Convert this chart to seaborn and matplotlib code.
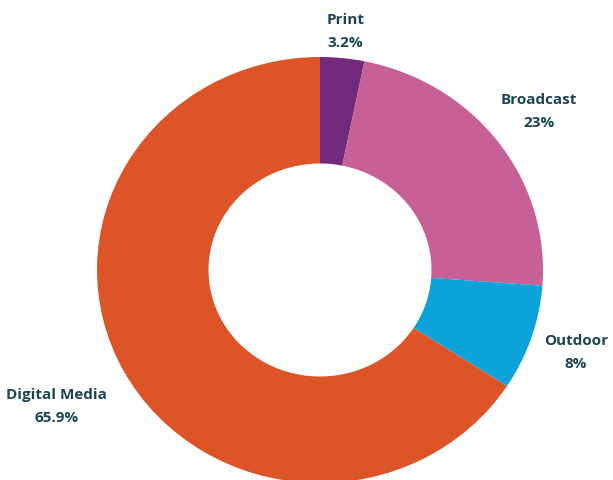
import matplotlib
matplotlib.use("Agg")
import matplotlib.pyplot as plt
import numpy as np
import seaborn as sns

# Media spend share by channel
channels = ["Print", "Broadcast", "Outdoor", "Digital Media"]
shares = [3.2, 23, 8, 65.9]
share_labels = ["3.2%", "23%", "8%", "65.9%"]

colors = ["#722A7C", "#C66096", "#0BA3DA", "#DC5428"]
label_radius = [1.125, 1.23, 1.21, 1.345]
text_color = "#1B4550"

sns.set_theme(style="white")
plt.rcParams["font.family"] = ["Open Sans", "DejaVu Sans"]

fig = plt.figure(figsize=(6.13, 4.80), dpi=100)
ax = fig.add_axes([0, 0, 1, 1])

wedges, _ = ax.pie(
    shares,
    colors=colors,
    startangle=90,
    counterclock=False,
    radius=1.0,
    wedgeprops=dict(width=0.5, edgecolor="none", linewidth=0),
)

for w, name, lab, r in zip(wedges, channels, share_labels, label_radius):
    mid = np.deg2rad((w.theta1 + w.theta2) / 2)
    x, y = r * np.cos(mid), r * np.sin(mid)
    ax.text(x, y, f"{name}\n{lab}", ha="center", va="center",
            fontsize=11, fontweight="bold", color=text_color,
            linespacing=1.8)

ax.set_aspect("auto")
ax.set_xlim(-320 / 223, 293 / 223)
ax.set_ylim(-210 / 213, 270 / 213)
ax.axis("off")

fig.savefig("out.png", dpi=100, facecolor="white")
